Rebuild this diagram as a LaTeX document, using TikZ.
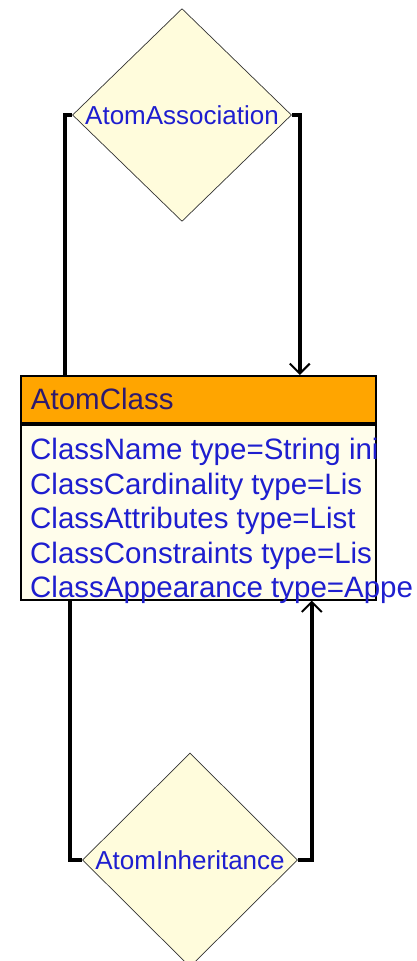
\documentclass[tikz,border=0pt]{standalone}
\usepackage{fontspec}
\setmainfont{Liberation Sans}
\usetikzlibrary{arrows.meta,shapes.geometric}

\definecolor{relfill}{HTML}{FFFCDC}
\definecolor{bodyfill}{HTML}{FFFDEB}
\definecolor{hdrorange}{HTML}{FFA500}
\definecolor{hdrtext}{HTML}{2E1A6E}
\definecolor{attrblue}{HTML}{1E1ECF}

\begin{document}
\begin{tikzpicture}[x=1pt,y=-1pt,>=Stealth,
  rel/.style={diamond,draw=black!80,line width=0.7pt,fill=relfill,inner sep=0pt,
    text=attrblue,font=\fontsize{26}{28}\selectfont},
  conn/.style={line width=3.5pt},
  tip/.style={-{Straight Barb[length=10pt,width=20pt,line width=2pt]}},
  attr/.style={anchor=west,inner sep=0pt,text=attrblue,font=\fontsize{29.5}{32}\selectfont}]
  \useasboundingbox (0,0) rectangle (417,961);
  % relation diamonds
  \node[rel,minimum width=219pt,minimum height=210pt] (assoc) at (182,115) {AtomAssociation};
  \node[rel,minimum width=215pt,minimum height=214pt] (inh) at (190,860) {AtomInheritance};
  % class box: header and attribute area
  \node[draw=black,line width=1.8pt,fill=hdrorange,anchor=north west,
    text width=335pt,inner xsep=10pt,inner ysep=0pt,minimum height=47pt,align=left,
    text=hdrtext,font=\fontsize{29.5}{32}\selectfont] (cls) at (20,375) {AtomClass};
  \node[draw=black,line width=1.8pt,fill=bodyfill,anchor=north,
    minimum width=355pt,minimum height=175pt,inner sep=0pt] (attrs) at (cls.south) {};
  \foreach \t [count=\i from 0] in {ClassName type=String ini,ClassCardinality type=Lis,
      ClassAttributes type=List,ClassConstraints type=Lis,ClassAppearance type=Appe}
    \node[attr] (a\i) at (30,{452+34.5*\i}) {\t};
  % links
  \draw[conn] (assoc.west) -| ([xshift=45pt]cls.north west);
  \draw[conn,tip] (assoc.east) -| ([xshift=-77pt]cls.north east);
  \draw[conn] ([xshift=50pt]attrs.south west) |- (inh.west);
  \draw[conn,tip] (inh.east) -| ([xshift=-65pt]attrs.south east);
\end{tikzpicture}
\end{document}
